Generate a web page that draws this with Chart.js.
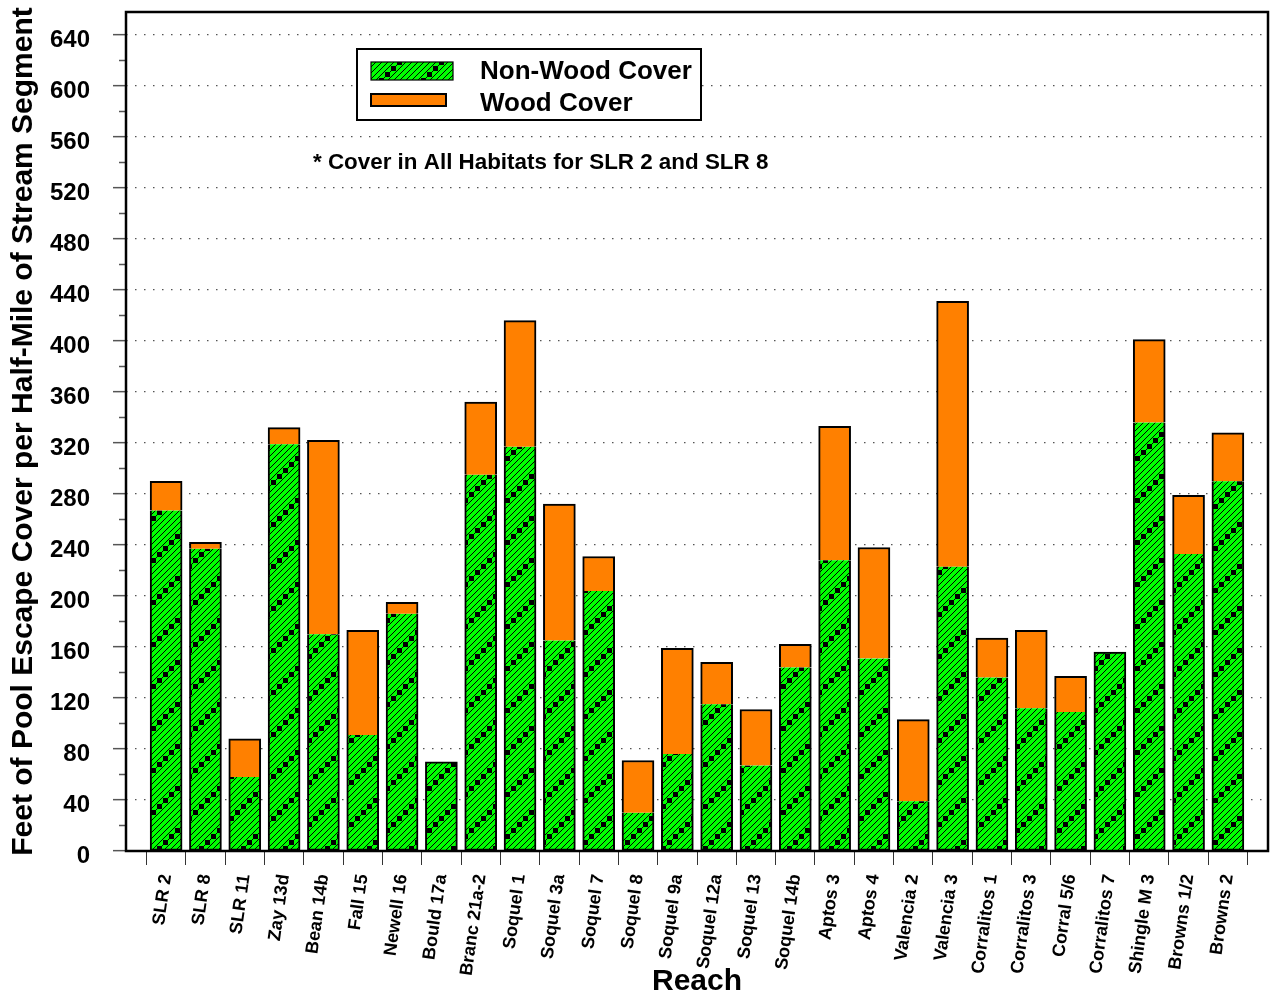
<!DOCTYPE html>
<html>
<head>
<meta charset="utf-8">
<title>Pool Escape Cover by Reach</title>
<script src="https://cdn.jsdelivr.net/npm/chart.js@4.4.1/dist/chart.umd.min.js"></script>
<style>
  html, body { margin: 0; padding: 0; background: #ffffff; }
  canvas { display: block; }
</style>
</head>
<body>
<canvas id="chart" width="1272" height="998"></canvas>
<script>
// Reaches along the x axis
const reaches = ['SLR 2', 'SLR 8', 'SLR 11', 'Zay 13d', 'Bean 14b', 'Fall 15', 'Newell 16', 'Bould 17a',
  'Branc 21a-2', 'Soquel 1', 'Soquel 3a', 'Soquel 7', 'Soquel 8', 'Soquel 9a', 'Soquel 12a', 'Soquel 13',
  'Soquel 14b', 'Aptos 3', 'Aptos 4', 'Valencia 2', 'Valencia 3', 'Corralitos 1', 'Corralitos 3',
  'Corral 5/6', 'Corralitos 7', 'Shingle M 3', 'Browns 1/2', 'Browns 2'];

// Feet of escape cover per half-mile, by cover type (stacked)
const nonWoodCover = [267, 237, 58, 319, 170, 91, 186, 70, 295, 317, 165, 204, 30, 76, 115, 67,
  144, 228, 151, 39, 223, 136, 112, 109, 156, 336, 233, 290];
const woodCover = [23, 5, 30, 13, 152, 82, 9, 0, 57, 99, 107, 27, 41, 83, 33, 44,
  18, 105, 87, 64, 208, 31, 61, 28, 0, 65, 46, 38];

// Labelled y ticks and the unlabelled minor ticks between them
const yMajorTicks = [0, 40, 80, 120, 160, 200, 240, 280, 320, 360, 400, 440, 480, 520, 560, 600, 640];
const yMinorTicks = [20, 60, 100, 140, 180, 220, 260, 300, 340, 380, 420, 460, 500, 540, 580, 620];

const FONT = "'Liberation Sans', Arial, Helvetica, sans-serif";
const NOTE = '* Cover in All Habitats for SLR 2 and SLR 8';

// Green fill with fine diagonal hatching and a stepped line of black squares
function makeHatch() {
  const size = 42, step = 6;
  const tile = document.createElement('canvas');
  tile.width = size; tile.height = size;
  const g = tile.getContext('2d');
  g.fillStyle = '#00ff00';
  g.fillRect(0, 0, size, size);
  g.strokeStyle = '#000000';
  g.lineWidth = 1;
  g.beginPath();
  for (let k = -8; k <= 8; k++) {
    const x0 = k * step;
    g.moveTo(x0, size);
    g.lineTo(x0 + size, 0);
  }
  g.stroke();
  g.fillStyle = '#000000';
  for (let i = 0; i < size / step; i++) {
    g.fillRect(i * step + 1, size - i * step - 6, 5, 5);
  }
  return g.createPattern(tile, 'repeat');
}

const hatch = makeHatch();
const ORANGE = '#ff8000';

// Keep the plot rectangle exactly where the layout puts it
function noScalePadding(s) {
  s.paddingTop = 0;
  s.paddingBottom = 0;
  s.paddingLeft = 0;
  s.paddingRight = 0;
}

// Frame, minor ticks, legend box and footnote
const decorations = {
  id: 'decorations',
  afterDatasetsDraw(chart) {
    const { ctx, chartArea: a, scales } = chart;
    const y = scales.y;
    ctx.save();
    // minor ticks on the value axis
    ctx.strokeStyle = '#555555';
    ctx.lineWidth = 1.5;
    ctx.beginPath();
    yMinorTicks.forEach(v => {
      const py = Math.round(y.getPixelForValue(v)) + 0.5;
      ctx.moveTo(a.left - 7, py);
      ctx.lineTo(a.left, py);
    });
    ctx.stroke();
    // plot frame
    ctx.strokeStyle = '#000000';
    ctx.lineWidth = 2.5;
    ctx.strokeRect(a.left, a.top, a.right - a.left, a.bottom - a.top);

    // legend
    const ds = chart.data.datasets;
    const lx = 357, ly = 49, lw = 344, lh = 71;
    ctx.fillStyle = '#ffffff';
    ctx.fillRect(lx, ly, lw, lh);
    ctx.lineWidth = 2;
    ctx.strokeStyle = '#000000';
    ctx.strokeRect(lx, ly, lw, lh);

    ctx.fillStyle = ds[0].backgroundColor;
    ctx.fillRect(371, 62, 82, 18);
    ctx.lineWidth = 1.2;
    ctx.strokeRect(371, 62, 82, 18);

    ctx.fillStyle = ds[1].backgroundColor;
    ctx.fillRect(371, 94, 75, 12);
    ctx.lineWidth = 2;
    ctx.strokeRect(371, 94, 75, 12);

    ctx.fillStyle = '#000000';
    ctx.font = 'bold 26px ' + FONT;
    ctx.textAlign = 'left';
    ctx.textBaseline = 'middle';
    ctx.fillText(ds[0].label, 480, 72);
    ctx.fillText(ds[1].label, 480, 104);

    // footnote
    ctx.font = 'bold 22.4px ' + FONT;
    ctx.fillText(NOTE, 313, 163);
    ctx.restore();
  }
};

new Chart(document.getElementById('chart'), {
  type: 'bar',
  data: {
    datasets: [
      {
        label: 'Non-Wood Cover',
        data: nonWoodCover.map((v, i) => ({ x: i, y: v })),
        backgroundColor: hatch,
        borderColor: '#000000',
        borderWidth: 2,
        borderSkipped: c => (woodCover[c.dataIndex] > 0 ? 'end' : 'start'),
        stack: 'cover'
      },
      {
        label: 'Wood Cover',
        data: woodCover.map((v, i) => ({ x: i, y: v })),
        backgroundColor: ORANGE,
        borderColor: '#000000',
        borderWidth: 2,
        borderSkipped: 'start',
        stack: 'cover'
      }
    ]
  },
  plugins: [decorations],
  options: {
    responsive: false,
    animation: false,
    devicePixelRatio: 1,
    barThickness: 32,
    layout: { padding: { left: 0, right: 4, top: 12, bottom: 0 } },
    plugins: {
      legend: { display: false },
      tooltip: { enabled: false }
    },
    scales: {
      x: {
        type: 'linear',
        min: -1.02,
        max: 28.02,
        stacked: true,
        offset: false,
        afterBuildTicks: s => { s.ticks = reaches.map((_, i) => ({ value: i })); },
        afterFit: s => { s.height = 147; noScalePadding(s); },
        border: { display: false },
        grid: {
          drawOnChartArea: false,
          drawTicks: true,
          tickLength: 14,
          tickColor: '#333333',
          tickWidth: 1,
          color: '#333333'
        },
        ticks: {
          autoSkip: false,
          minRotation: 82,
          maxRotation: 82,
          padding: 8,
          color: '#000000',
          font: { family: FONT, size: 18, weight: 'bold' },
          callback: v => reaches[v] ?? ''
        },
        title: {
          display: true,
          text: 'Reach',
          color: '#000000',
          font: { family: FONT, size: 30, weight: 'bold' },
          padding: { top: 0, bottom: -2 }
        }
      },
      y: {
        type: 'linear',
        min: 0,
        max: 658,
        stacked: true,
        afterBuildTicks: s => { s.ticks = yMajorTicks.map(v => ({ value: v })); },
        afterFit: s => { s.width = 126; noScalePadding(s); },
        border: { display: false, dash: [1.5, 7.5] },
        grid: {
          color: '#555555',
          lineWidth: 1.3,
          borderDash: [1.5, 7.5],
          drawTicks: true,
          tickLength: 13,
          tickWidth: 1.5,
          tickColor: '#555555',
          tickBorderDash: []
        },
        ticks: {
          padding: 23,
          labelOffset: 5,
          color: '#000000',
          font: { family: FONT, size: 24, weight: 'bold' },
          callback: v => String(v)
        },
        title: {
          display: true,
          text: 'Feet of Pool Escape Cover per Half-Mile of Stream Segment',
          color: '#000000',
          font: { family: FONT, size: 30, weight: 'bold' },
          padding: { top: 6, bottom: 0 }
        }
      }
    }
  }
});
</script>
</body>
</html>
